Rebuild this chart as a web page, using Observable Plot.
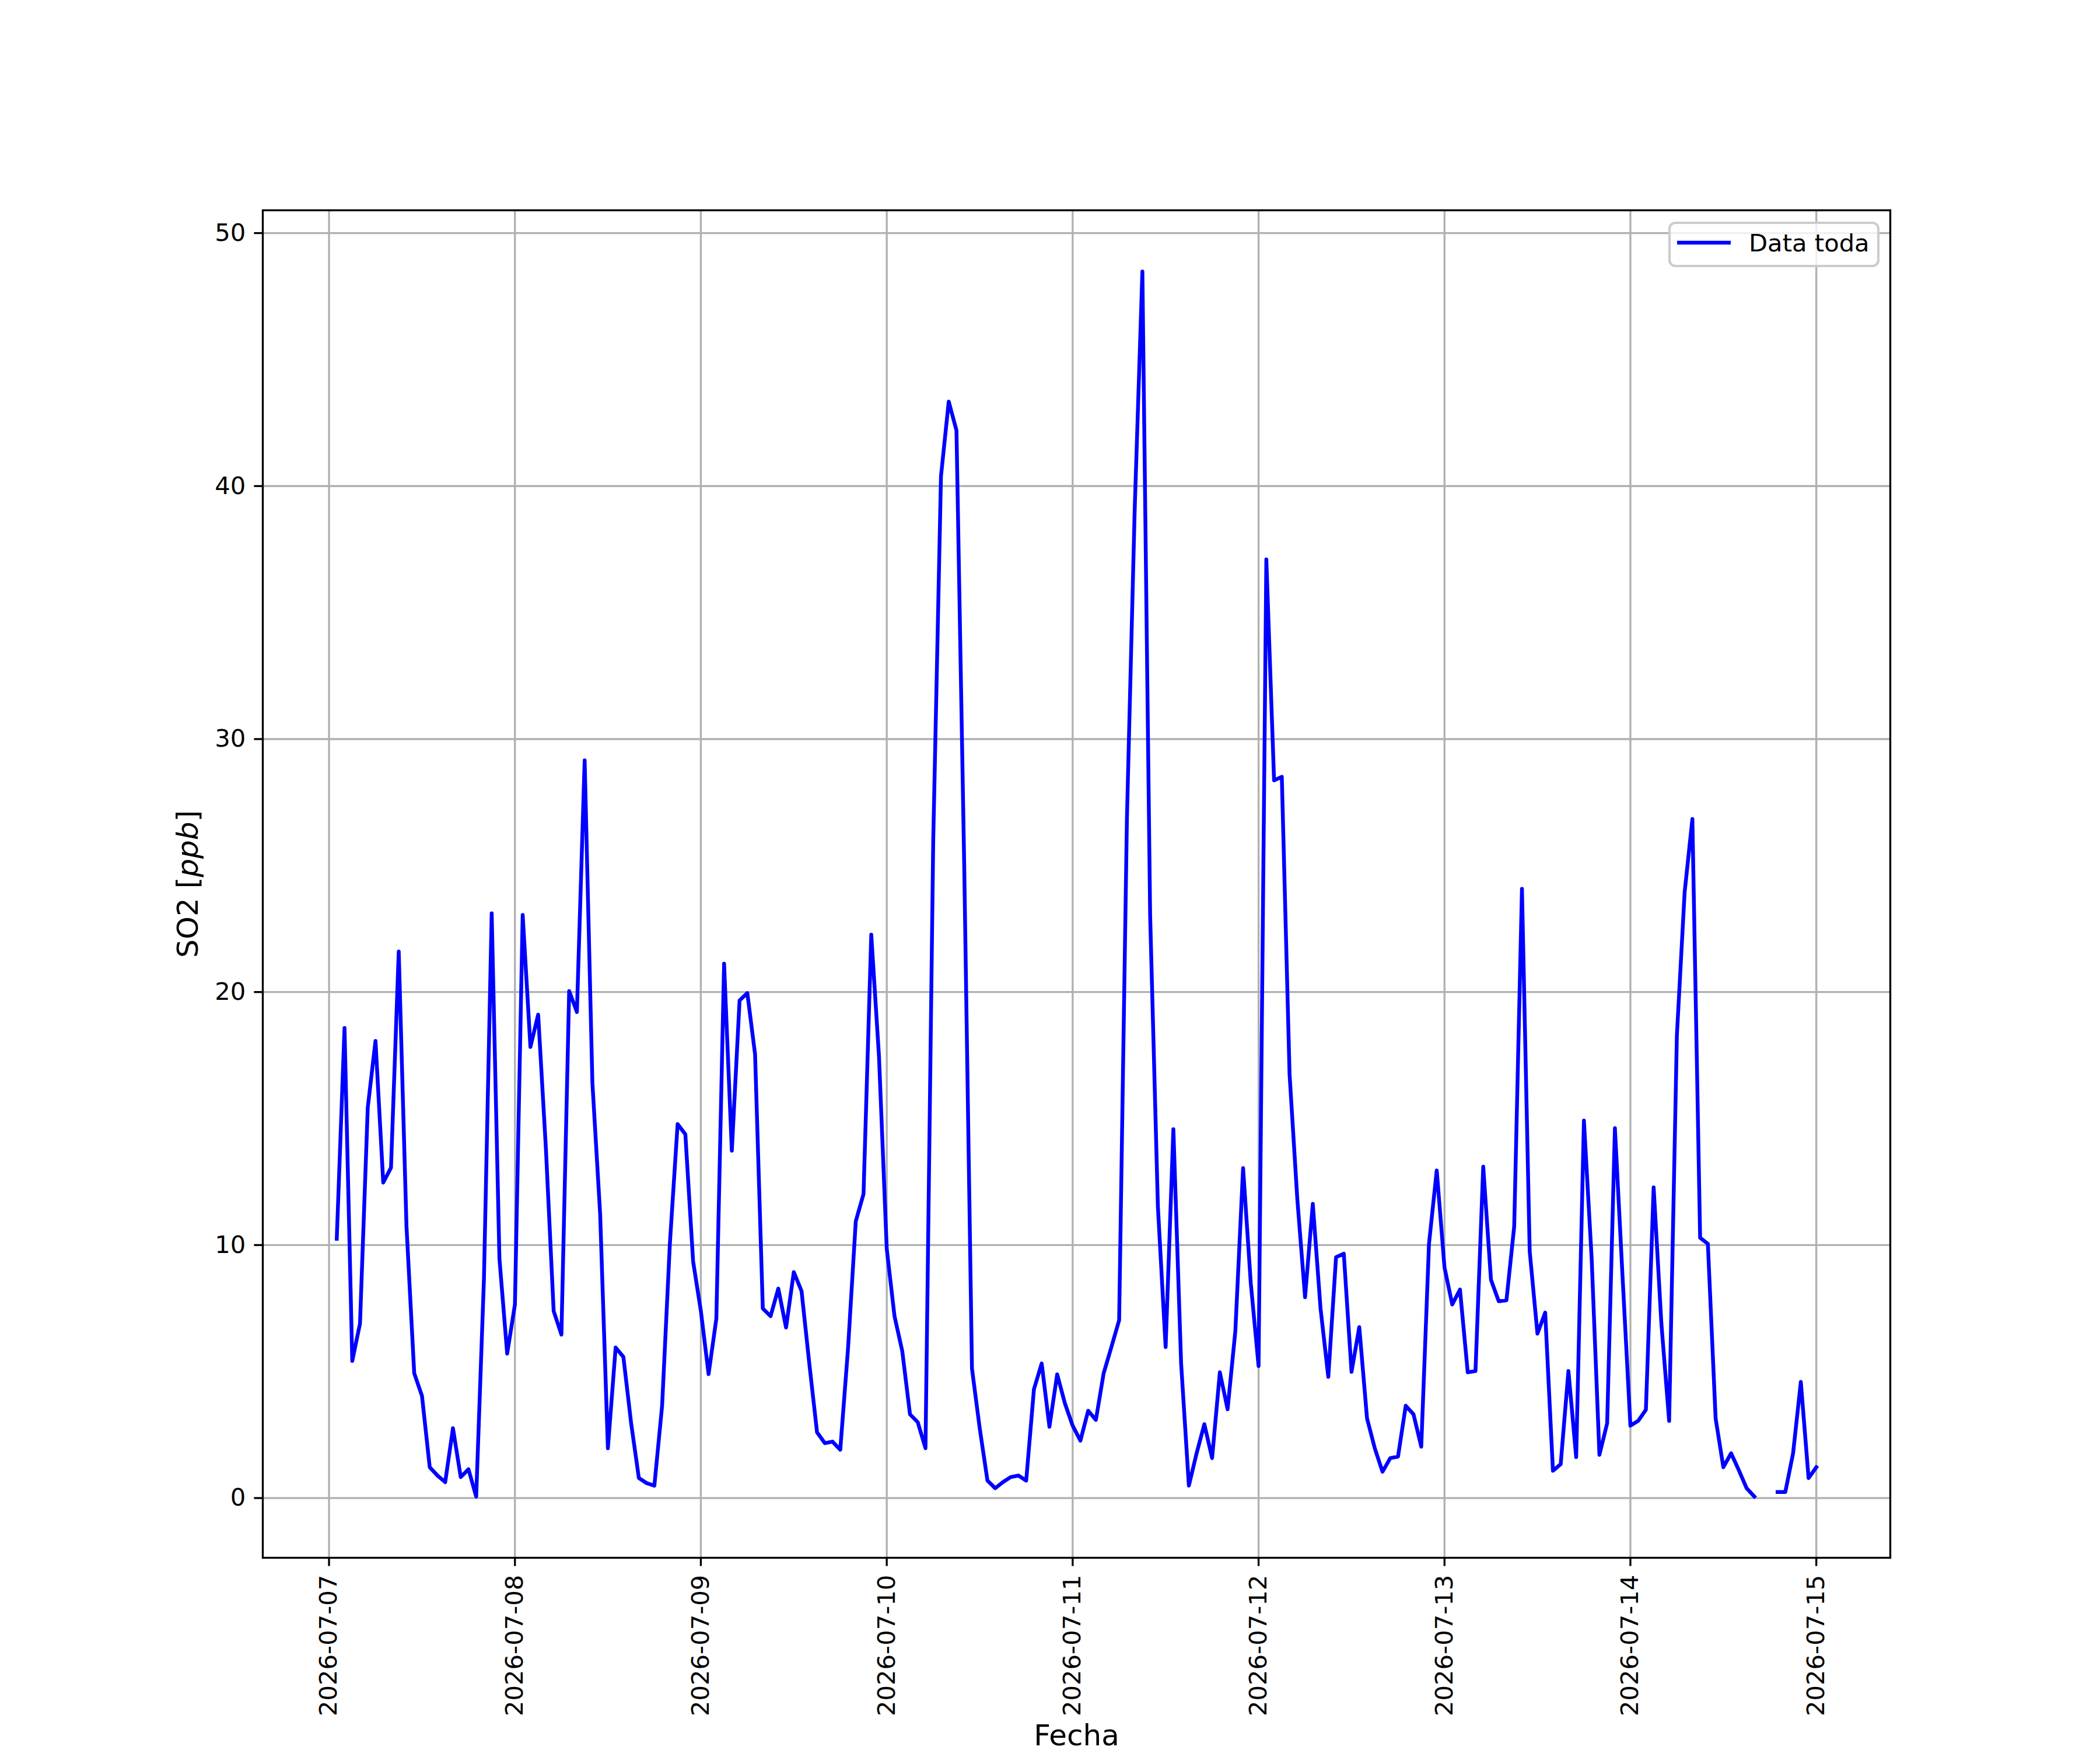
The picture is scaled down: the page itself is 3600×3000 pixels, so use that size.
<!DOCTYPE html>
<html>
<head>
<meta charset="utf-8">
<script src="https://cdn.jsdelivr.net/npm/d3@7"></script>
<script src="https://cdn.jsdelivr.net/npm/@observablehq/plot@0.6"></script>
<style>
  html, body { margin: 0; padding: 0; background: white; }
</style>
</head>
<body>
<div id="chart"></div>
<script>
// Hourly SO2 readings starting 2026-07-07 01:00 (UTC), one value per hour
const startTime = "2026-07-07T01:00:00Z";
const so2 = [
  10.25,18.58,5.42,6.9,15.43,18.07,12.47,13.06,21.6,10.74,4.93,4.04,1.22,0.89,0.63,2.76,0.83,1.14,0.06,8.67,23.11,9.46,5.71,7.65,
  23.05,17.83,19.11,13.8,7.39,6.46,20.04,19.21,29.16,16.41,11.23,1.97,5.95,5.58,2.96,0.79,0.59,0.49,3.65,10.05,14.78,14.38,9.36,7.4,
  4.9,7.09,21.12,13.73,19.67,19.96,17.54,7.49,7.19,8.28,6.74,8.93,8.18,5.32,2.6,2.17,2.23,1.91,5.91,10.94,12.02,22.27,17.44,9.85,
  7.19,5.81,3.31,3.0,1.97,26,40.39,43.34,42.2,25,5.12,2.76,0.69,0.39,0.63,0.83,0.89,0.69,4.3,5.32,2.82,4.89,3.74,2.86,
  2.27,3.45,3.09,4.93,5.97,7.03,26.8,39,48.48,23.05,11.53,5.97,14.58,5.32,0.49,1.77,2.92,1.58,4.97,3.51,6.6,13.04,8.47,5.22,
  37.1,28.37,28.51,16.75,11.82,7.94,11.63,7.49,4.79,9.52,9.66,4.99,6.76,3.15,1.97,1.04,1.58,1.64,3.65,3.31,2.03,10.05,12.95,9.12,
  7.65,8.24,4.97,5.02,13.1,8.63,7.78,7.82,10.74,24.08,9.75,6.5,7.33,1.08,1.34,5.02,1.62,14.92,9.46,1.71,2.96,14.62,8.67,2.86,
  3.05,3.49,12.28,6.9,3.05,18.29,23.94,26.84,10.29,10.05,3.15,1.22,1.77,1.1,0.39,0.06,null,null,0.24,0.24,1.77,4.59,0.79,1.22
];
const xTickLabels = ["2026-07-07","2026-07-08","2026-07-09","2026-07-10","2026-07-11","2026-07-12","2026-07-13","2026-07-14","2026-07-15"];
const yTicks = [0, 10, 20, 30, 40, 50];
const seriesName = "Data toda";
const xLabel = "Fecha";
const yLabel = "SO2 [ppb]";

const t0 = new Date(startTime);
const data = so2.map((v, i) => ({date: d3.utcHour.offset(t0, i), value: v}));
const xTicks = xTickLabels.map(s => new Date(s + "T00:00:00Z"));

const xExt = d3.extent(data, d => d.date);
const xPad = (xExt[1] - xExt[0]) * 0.05;
const yVals = data.filter(d => d.value != null).map(d => d.value);
const yExt = d3.extent(yVals);
const yPad = (yExt[1] - yExt[0]) * 0.05;

const W = 3600, H = 3000;
const mL = 450, mR = 360, mT = 360, mB = 330;
const lw = 3.33; // 0.8pt at 300 dpi
const fmt = d3.utcFormat("%Y-%m-%d");

const chart = Plot.plot({
  width: W, height: H,
  marginLeft: mL, marginRight: mR, marginTop: mT, marginBottom: mB,
  style: {fontFamily: "'DejaVu Sans', sans-serif", fontSize: "41.7px", background: "white", color: "black", overflow: "visible"},
  x: {type: "utc", domain: [new Date(+xExt[0] - xPad), new Date(+xExt[1] + xPad)]},
  y: {domain: [yExt[0] - yPad, yExt[1] + yPad]},
  marks: [
    Plot.gridX(xTicks, {stroke: "#b0b0b0", strokeOpacity: 1, strokeWidth: lw}),
    Plot.gridY(yTicks, {stroke: "#b0b0b0", strokeOpacity: 1, strokeWidth: lw}),
    Plot.line(data, {x: "date", y: "value", stroke: "#0000ff", strokeWidth: 6.5, strokeLinejoin: "round", strokeLinecap: "square"}),
    Plot.frame({stroke: "black", strokeWidth: lw}),
    Plot.axisX(xTicks, {tickFormat: fmt, tickRotate: -90, tickSize: 14.6, tickPadding: 14.6, strokeWidth: lw, label: null, fill: "black"}),
    Plot.axisY(yTicks, {tickFormat: d => String(d), tickSize: 14.6, tickPadding: 14.6, strokeWidth: lw, label: null, fill: "black"}),
    Plot.text([xLabel], {frameAnchor: "bottom", dy: 321, fontSize: 50, fill: "black"}),
    Plot.text([yLabel], {frameAnchor: "left", textAnchor: "middle", dx: -128, rotate: -90, fontSize: 50, fill: "black"})
  ]
});

// italic "ppb" in the y label (mathtext style)
d3.select(chart).selectAll("text").each(function() {
  if (this.textContent === yLabel) {
    const t = d3.select(this);
    t.text(null);
    t.append("tspan").text("SO2 [");
    t.append("tspan").attr("font-style", "italic").text("ppb");
    t.append("tspan").text("]");
  }
});

// legend box (upper right)
const svg = d3.select(chart);
const boxR = W - mR - 20, boxT = mT + 22;
const boxW = 358, boxH = 74;
const lg = svg.append("g").attr("text-anchor", "start");
lg.append("rect")
  .attr("x", boxR - boxW).attr("y", boxT).attr("width", boxW).attr("height", boxH)
  .attr("rx", 10).attr("ry", 10)
  .attr("fill", "white").attr("fill-opacity", 0.8)
  .attr("stroke", "#cccccc").attr("stroke-width", 4.17);
lg.append("line")
  .attr("x1", boxR - boxW + 13).attr("x2", boxR - boxW + 105)
  .attr("y1", boxT + 34).attr("y2", boxT + 34)
  .attr("stroke", "#0000ff").attr("stroke-width", 6.5).attr("stroke-linecap", "butt");
lg.append("text")
  .attr("x", boxR - boxW + 136).attr("y", boxT + 49)
  .attr("text-anchor", "start")
  .attr("font-size", 41.7).attr("fill", "black")
  .text(seriesName);

document.getElementById("chart").appendChild(chart);
</script>
</body>
</html>
